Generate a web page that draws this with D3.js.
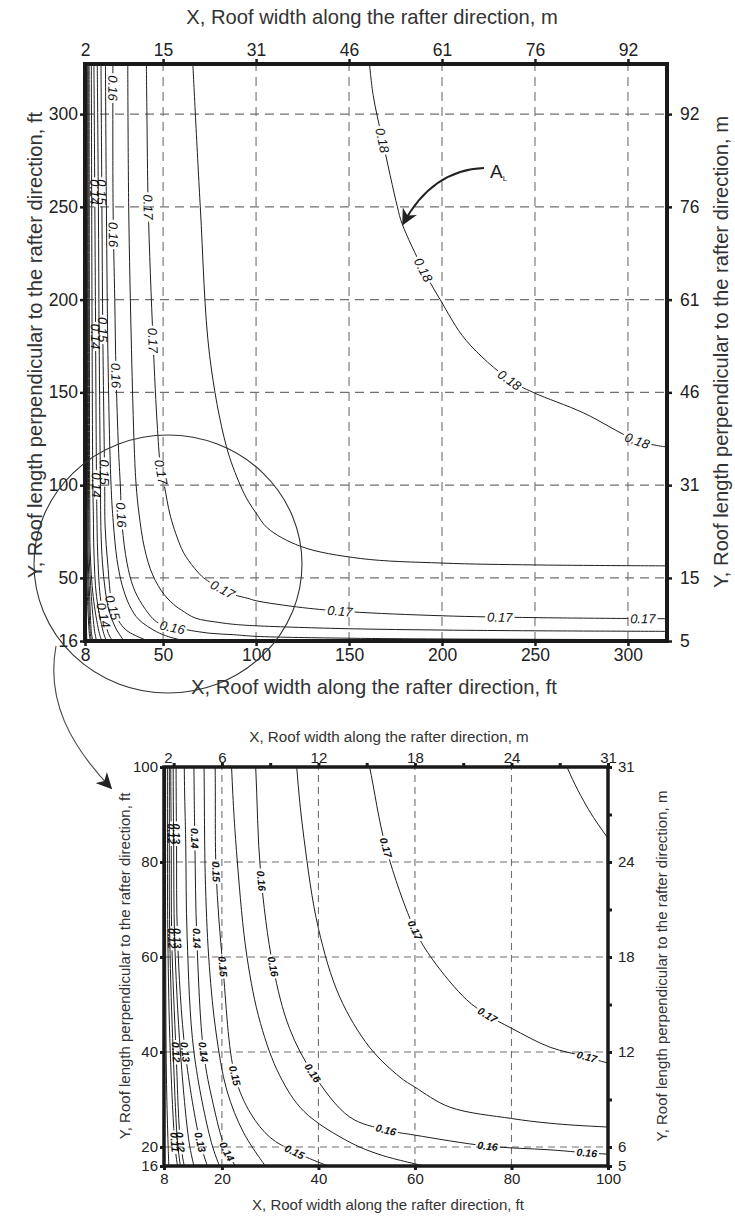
<!DOCTYPE html>
<html><head><meta charset="utf-8">
<script src="https://cdn.jsdelivr.net/npm/d3@7"></script>
<style>body{margin:0;background:#fff}svg{display:block}</style>
</head><body>
<svg id="c" width="735" height="1216"></svg>
<script>
// ---------------- DATA (feet) ----------------
const levels = [0.105,0.11,0.115,0.12,0.125,0.13,0.135,0.14,0.145,0.15,0.155,0.16,0.165,0.17,0.175,0.18];
const c105 = [[8.3,327],[8.3,100],[8.35,60],[8.5,35],[8.8,22],[9.0,16]];
const c110 = [[8.6,327],[8.7,100],[8.8,64],[9.3,40],[10.3,20],[10.8,16]];
const c115 = [[8.9,327],[9.1,100],[9.2,64],[9.9,40],[10.8,21],[11.4,16]];
const c120 = [[9.2,327],[9.4,100],[9.5,84],[9.6,64],[10.5,40],[11.4,21],[12.2,16]];
const c125 = [[9.7,327],[9.9,100],[10.0,84],[10.2,64],[11.4,40],[13.2,21],[14.2,16]];
const c130 = [[10.2,327],[10.5,100],[10.6,84],[10.8,64],[12.4,40],[15.5,21],[17.0,16]];
const c135 = [[11.4,327],[12.2,100],[12.5,84],[12.8,64],[14.2,40],[17.8,21],[19.5,16]];
const c140 = [[12.8,327],[13.3,250],[14.2,100],[14.4,84],[14.8,64],[16.2,40],[18.2,29],[20.6,20],[22.8,16]];
const c145 = [[14.6,327],[15.2,250],[15.6,180],[16.3,100],[16.6,75],[17.4,58],[18.8,44],[21,32],[24.5,23],[29,16]];
const c150 = [[16.6,327],[17.1,250],[17.6,180],[18.6,100],[18.8,78],[20.2,58],[22.7,35],[26,27],[30,22],[35,19],[42,16]];
const c155 = [[19,327],[19.5,250],[20.5,160],[22,100],[23.2,80],[25.2,60],[28,46],[32,35],[37,27.5],[46.5,21],[53,18.3],[62,16]];
const c160 = [[23,327],[23.1,250],[24,200],[24.7,160],[26,120],[27,100],[28,78],[30.6,58],[34,45],[38.8,35.6],[46.5,26.3],[54,23.6],[60,22.5],[75,20.2],[88,19.4],[100,18.5],[150,17.5],[200,17.1],[321,16.7]];
const c165 = [[31,327],[31.5,250],[33,173],[34.5,120],[35.5,100],[37,85],[40,66],[44.4,51.6],[50.6,41],[56.9,34.7],[60,32.6],[67.2,28.4],[80,26],[88,25],[100,24.2],[150,22.6],[200,21.9],[250,21.5],[321,21.2]];
const c170 = [[41,327],[41.3,300],[42,250],[44.6,178],[47,130],[48.8,108],[50.6,100],[54,83],[60,65.7],[63.7,59.4],[70.7,51],[75,47.8],[80,45],[88,41],[95.6,39],[100,37.7],[125,34],[150,31.8],[200,29.6],[250,28.6],[321,28]];
const c175 = [[66,327],[70,250],[75,170],[84,121],[91.5,100],[96,91],[100,85],[106,77],[124,67],[156,60.5],[200,58],[250,57],[321,56.5]];
const c180 = [[161,327],[163,310],[168,286],[176,250],[178.5,241],[190,216],[199,200],[213,178],[236.5,156.6],[249,150],[276,139],[305,124],[321,120.5]];

// contour labels: [level, x ft, y ft]
const upperLabels = [
 [0.16,23,314],[0.16,23.8,235],[0.16,24.7,159],[0.16,27.5,84],[0.16,55,24],
 [0.15,17,258],[0.14,13,258],[0.15,17.5,184],[0.14,13.4,180],[0.15,18.5,107],[0.14,14,100],[0.15,23,34],[0.14,18,30],
 [0.17,42,250],[0.17,44.6,178],[0.17,48.8,107],[0.17,82,44],[0.17,145,32],[0.17,231,29],[0.17,308,28.2],
 [0.18,168,286],[0.18,190,216],[0.18,236.5,157],[0.18,305,124]
];
const lowerLabels = [
 [0.12,9.5,86],[0.13,10.6,86],[0.14,14.4,85],[0.15,18.7,78],[0.16,28,76],[0.17,54,83],
 [0.12,9.6,64],[0.13,10.8,64],[0.14,14.8,64],[0.15,20.2,58],[0.16,30.6,58],[0.17,60,65.7],
 [0.12,10.5,40],[0.13,12.4,40],[0.14,16.2,40],[0.15,22.7,35],[0.16,38.8,35.6],[0.17,75,47.8],[0.17,95.6,39],
 [0.11,10.3,21],[0.12,11.4,21],[0.13,15.5,21],[0.14,21,19],[0.15,35,19],[0.16,54,23.6],[0.16,75,20.2],[0.16,95.6,18.5]
];

// axes
const upperXTicks = [8,50,100,150,200,250,300];
const upperXLabelsFt = ["8","50","100","150","200","250","300"];
const upperXLabelsM = ["2","15","31","46","61","76","92"];
const upperYTicks = [16,50,100,150,200,250,300];
const upperYLabelsFt = ["16","50","100","150","200","250","300"];
const upperYLabelsM = ["5","15","31","46","61","76","92"];
const upperGrid = [50,100,150,200,250,300];

const lowerXTicks = [8,20,40,60,80,100];
const lowerXLabelsFt = ["8","20","40","60","80","100"];
const lowerXTopTicks = [10,20,30,40,50,60,70,80,90,100];
const lowerXTopLabelPos = [8.8,20,40,60,80,100];
const lowerXLabelsM = ["2","6","12","18","24","31"];
const lowerYTicks = [16,20,40,60,80,100];
const lowerYLabelsFt = ["16","20","40","60","80","100"];
const lowerYRightTicks = [16,20,30,40,50,60,70,80,90,100];
const lowerYRightLabelPos = [16,20,40,60,80,100];
const lowerYLabelsM = ["5","6","12","18","24","31"];
const lowerGrid = [20,40,60,80];

const titleXm = "X, Roof width along the rafter direction, m";
const titleXft = "X, Roof width along the rafter direction, ft";
const titleYft = "Y, Roof length perpendicular to the rafter direction, ft";
const titleYm = "Y, Roof length perpendicular to the rafter direction, m";

// ---------------- DRAW ----------------
const contourData = [c105,c110,c115,c120,c125,c130,c135,c140,c145,c150,c155,c160,c165,c170,c175,c180]
  .map((pts,i)=>({level:levels[i], pts}));
const FONT = "'Liberation Sans', Arial, Helvetica, sans-serif";
const svg = d3.select("#c");
const defs = svg.append("defs");
defs.append("marker").attr("id","ah2").attr("viewBox","0 0 10 10").attr("refX",9).attr("refY",5)
  .attr("markerWidth",16).attr("markerHeight",16).attr("markerUnits","userSpaceOnUse").attr("orient","auto")
  .append("path").attr("d","M0,0 L10,5 L0,10 L3,5 z").attr("fill","#222");

function panel(p){
  const x = d3.scaleLinear(p.xDom, p.xRng);
  const y = d3.scaleLinear(p.yDom, p.yRng);
  const g = svg.append("g");
  const cid = p.id+"clip";
  defs.append("clipPath").attr("id",cid).append("rect")
    .attr("x",p.xRng[0]).attr("y",p.yRng[1]).attr("width",p.xRng[1]-p.xRng[0]).attr("height",p.yRng[0]-p.yRng[1]);
  // grid
  g.append("g").selectAll("line").data(p.grid).join("line")
    .attr("x1",d=>x(d)).attr("x2",d=>x(d)).attr("y1",p.yRng[0]).attr("y2",p.yRng[1])
    .attr("stroke","#707070").attr("stroke-width",1.1).attr("stroke-dasharray",p.dash);
  g.append("g").selectAll("line").data(p.grid).join("line")
    .attr("y1",d=>y(d)).attr("y2",d=>y(d)).attr("x1",p.xRng[0]).attr("x2",p.xRng[1])
    .attr("stroke","#707070").attr("stroke-width",1.1).attr("stroke-dasharray",p.dash);
  // contours
  const line = d3.line().x(d=>x(d[0])).y(d=>y(d[1])).curve(d3.curveCatmullRom.alpha(0.5));
  const cg = g.append("g").attr("clip-path",`url(#${cid})`);
  const paths = cg.selectAll("path").data(contourData).join("path")
    .attr("d",d=>line(d.pts)).attr("fill","none").attr("stroke","#1e1e1e").attr("stroke-width",p.lw);
  // labels
  const lg = g.append("g");
  const cut = {};
  p.labels.forEach(([lv,lx,ly])=>{
    const idx = contourData.findIndex(c=>Math.abs(c.level-lv)<1e-6);
    const node = paths.nodes()[idx];
    const L = node.getTotalLength();
    const tx = x(lx), ty = y(ly);
    let best=0, bd=1e9;
    for(let s=0;s<=L;s+=0.5){const q=node.getPointAtLength(s);const dd=(q.x-tx)**2+(q.y-ty)**2;if(dd<bd){bd=dd;best=s;}}
    const pt = node.getPointAtLength(best);
    const a = node.getPointAtLength(Math.max(0,best-4)), b = node.getPointAtLength(Math.min(L,best+4));
    let ang = Math.atan2(b.y-a.y,b.x-a.x)*180/Math.PI;
    if(ang>100) ang-=180; if(ang<-80) ang+=180;
    const t = lg.append("text").text(d3.format(".2f")(lv))
      .attr("transform",`translate(${pt.x},${pt.y}) rotate(${ang})`)
      .attr("text-anchor","middle").attr("dy","0.36em")
      .attr("font-family",FONT).attr("font-size",p.lfs).attr("font-style","italic").attr("font-weight",p.lfw).attr("fill","#111");
    const w = t.node().getComputedTextLength();
    (cut[idx]=cut[idx]||[]).push({x:pt.x,y:pt.y,ang,w});
  });
  Object.keys(cut).forEach(idx=>{
    const mid = p.id+"m"+idx;
    const m = defs.append("mask").attr("id",mid).attr("maskUnits","userSpaceOnUse")
      .attr("x",0).attr("y",0).attr("width",735).attr("height",1216);
    m.append("rect").attr("x",0).attr("y",0).attr("width",735).attr("height",1216).attr("fill","#fff");
    cut[idx].forEach(c=>m.append("rect").attr("x",-c.w/2-2).attr("y",-p.lfs*0.5).attr("width",c.w+4).attr("height",p.lfs)
      .attr("transform",`translate(${c.x},${c.y}) rotate(${c.ang})`).attr("fill","#000"));
    d3.select(paths.nodes()[+idx]).attr("mask",`url(#${mid})`);
  });
  // frame
  g.append("rect").attr("x",p.xRng[0]).attr("y",p.yRng[1]).attr("width",p.xRng[1]-p.xRng[0]).attr("height",p.yRng[0]-p.yRng[1])
    .attr("fill","none").attr("stroke","#1a1a1a").attr("stroke-width",p.fw);
  // axes
  function style(ax, fs){
    ax.select(".domain").remove();
    ax.selectAll(".tick line").attr("stroke","#1a1a1a").attr("stroke-width",p.tw);
    ax.selectAll(".tick text").attr("font-family",FONT).attr("font-size",fs).attr("fill","#222");
  }
  const fmt = (labels,vals)=>(d=>{const i=vals.indexOf(d);return i<0?"":labels[i];});
  style(g.append("g").attr("transform",`translate(0,${p.yRng[0]})`)
    .call(d3.axisBottom(x).tickValues(p.xTicks).tickFormat(fmt(p.xLab,p.xTicks)).tickSize(p.ts).tickPadding(3)), p.fs);
  style(g.append("g").attr("transform",`translate(0,${p.yRng[1]})`)
    .call(d3.axisTop(x).tickValues(p.xTopTicks).tickFormat(()=>"" ).tickSize(p.ts)), p.fs);
  style(g.append("g").attr("transform",`translate(0,${p.yRng[1]})`)
    .call(d3.axisTop(x).tickValues(p.xTopLabPos).tickFormat(fmt(p.xTopLab,p.xTopLabPos)).tickSize(0).tickPadding(p.topPad)), p.fs);
  style(g.append("g").attr("transform",`translate(${p.xRng[0]},0)`)
    .call(d3.axisLeft(y).tickValues(p.yTicks).tickFormat(fmt(p.yLab,p.yTicks)).tickSize(p.ts).tickPadding(2)), p.fs);
  style(g.append("g").attr("transform",`translate(${p.xRng[1]},0)`)
    .call(d3.axisRight(y).tickValues(p.yRTicks).tickFormat(()=>"" ).tickSize(p.ts)), p.fs);
  style(g.append("g").attr("transform",`translate(${p.xRng[1]},0)`)
    .call(d3.axisRight(y).tickValues(p.yRLabPos).tickFormat(fmt(p.yRLab,p.yRLabPos)).tickSize(0).tickPadding(p.rPad)), p.fs);
  // titles
  const T=(txt,tx,ty,rot,fs)=>svg.append("text").text(txt).attr("text-anchor","middle").attr("dy","0.35em")
    .attr("transform",`translate(${tx},${ty}) rotate(${rot})`).attr("font-family",FONT).attr("font-size",fs).attr("fill","#333");
  p.titles.forEach(t=>T(...t));
  return {x,y};
}

panel({id:"up", xDom:[8,321], xRng:[85,667], yDom:[16,327], yRng:[641,64], grid:upperGrid, dash:"9,6", lw:1, lfs:13, lfw:400, fs:17.5,
  fw:4, tw:2.5, ts:5, topPad:8, rPad:13, labels:upperLabels,
  xTicks:upperXTicks, xLab:upperXLabelsFt, xTopTicks:upperXTicks.slice(1), xTopLabPos:upperXTicks, xTopLab:upperXLabelsM,
  yTicks:upperYTicks, yLab:upperYLabelsFt, yRTicks:upperYTicks, yRLabPos:upperYTicks, yRLab:upperYLabelsM,
  titles:[[titleXm,372,17,0,20.2],[titleXft,374,687,0,20.2],[titleYft,35,345,-90,20.2],[titleYm,721,352,-90,20.2]]});

panel({id:"lo", xDom:[8,100], xRng:[164,608], yDom:[16,100], yRng:[1166,767], grid:lowerGrid, dash:"7,5", lw:1, lfs:10.5, lfw:700, fs:15,
  fw:3.5, tw:3, ts:4, topPad:4, rPad:10, labels:lowerLabels,
  xTicks:lowerXTicks, xLab:lowerXLabelsFt, xTopTicks:lowerXTopTicks, xTopLabPos:lowerXTopLabelPos, xTopLab:lowerXLabelsM,
  yTicks:lowerYTicks, yLab:lowerYLabelsFt, yRTicks:lowerYRightTicks, yRLabPos:lowerYRightLabelPos, yRLab:lowerYLabelsM,
  titles:[[titleXm,389,737,0,15.2],[titleXft,388,1205,0,15],[titleYft,125,966,-90,15],[titleYm,662,966,-90,15]]});

// annotations
svg.append("ellipse").attr("cx",168).attr("cy",564).attr("rx",134).attr("ry",129)
  .attr("fill","none").attr("stroke","#333").attr("stroke-width",1.1);
svg.append("path").attr("d","M56,646 C46,700 70,745 111,788").attr("fill","none").attr("stroke","#444")
  .attr("stroke-width",1.1).attr("marker-end","url(#ah2)");
svg.append("path").attr("d","M484,168 Q432,170 403,224").attr("fill","none").attr("stroke","#222")
  .attr("stroke-width",1.8).attr("marker-end","url(#ah2)");
const al = svg.append("text").attr("x",490).attr("y",178).attr("font-family",FONT).attr("font-size",19).attr("fill","#222");
al.append("tspan").text("A");
al.append("tspan").text("L").attr("font-size",8).attr("dy",3);
</script>
</body></html>
